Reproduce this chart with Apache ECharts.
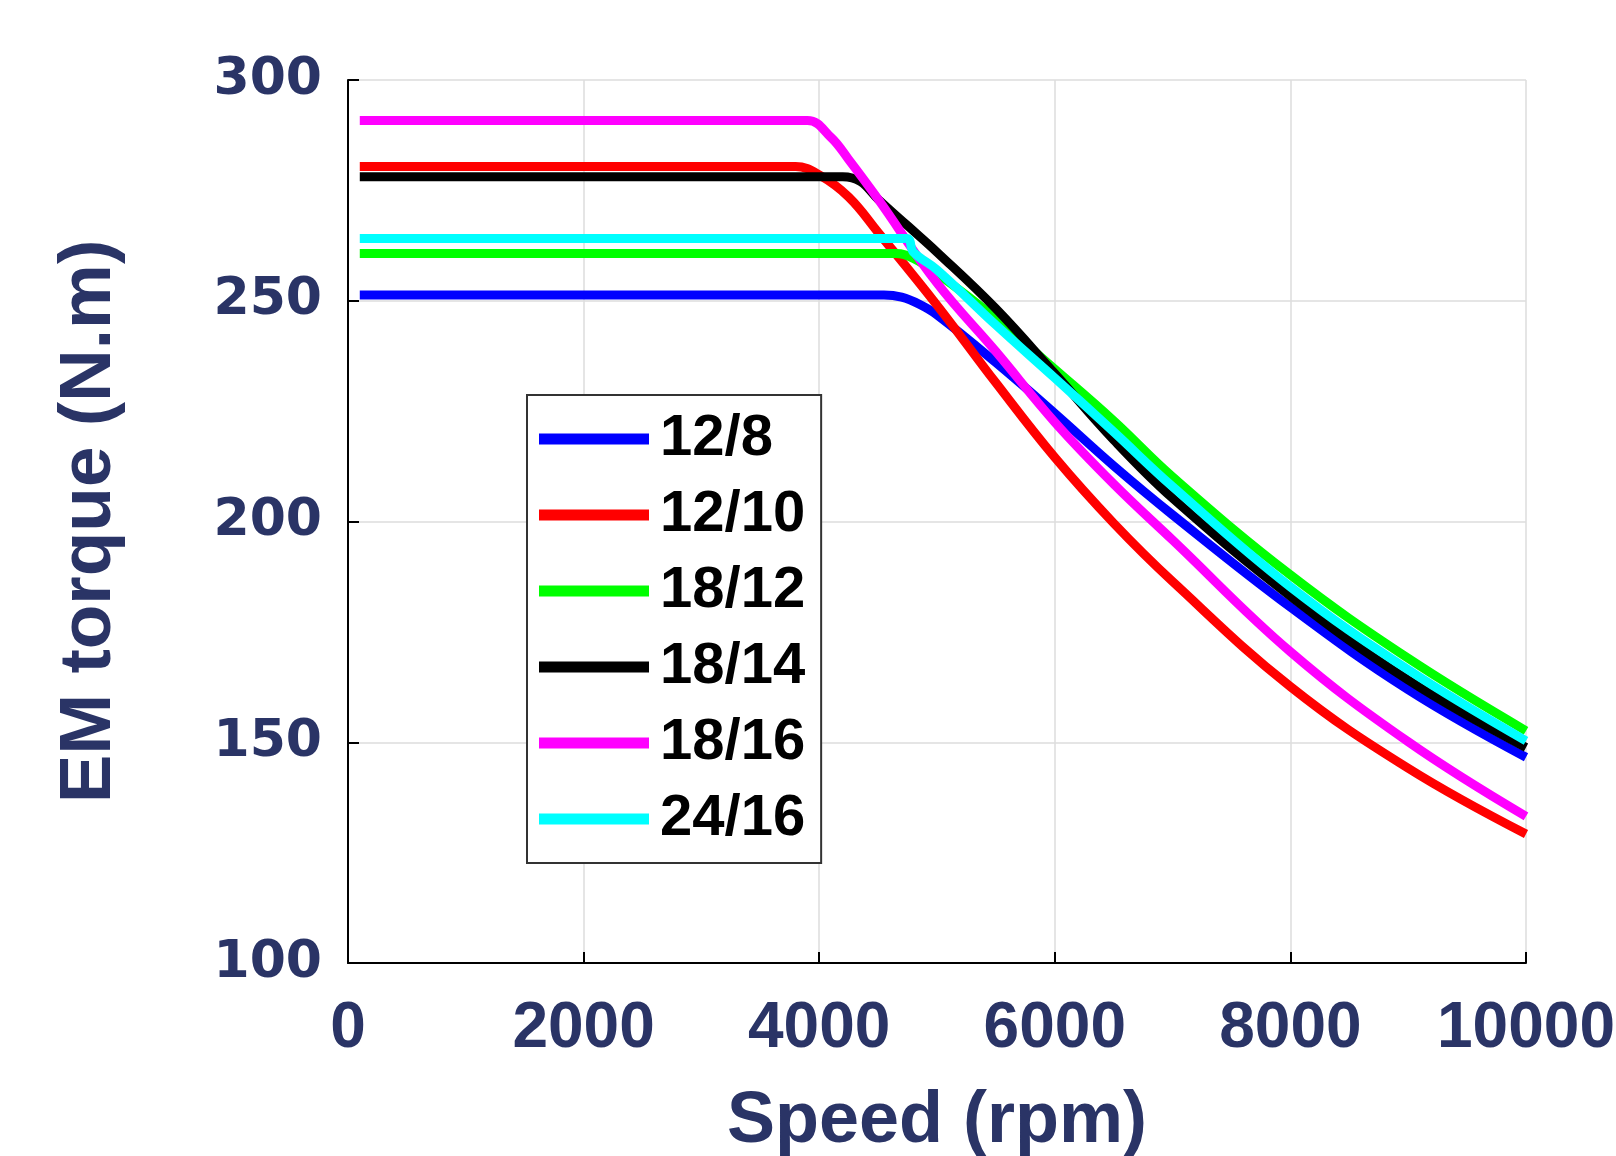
<!DOCTYPE html>
<html>
<head>
<meta charset="utf-8">
<script src="https://cdn.jsdelivr.net/npm/echarts@6/dist/echarts.min.js"></script>
<style>
  html, body { margin: 0; padding: 0; background: #fff; }
  #chart { width: 1616px; height: 1156px; }
</style>
</head>
<body>
<div id="chart"></div>
<script>
// tick values
const xTicks = [0, 2000, 4000, 6000, 8000, 10000];
const yTicks = [100, 150, 200, 250, 300];

// legend names
const names = ["12/8", "12/10", "18/12", "18/14", "18/16", "24/16"];

// [speed rpm, torque N.m]
const s12_8 = [[100, 251.3], [4550, 251.3], [4700, 250.8], [4850, 249.2], [5000, 246.8], [5500, 236], [6000, 224.5], [6500, 212.6], [7000, 201.5], [8000, 180.6], [9000, 161.9], [10000, 146.6]];
const s12_10 = [[100, 280.4], [3800, 280.4], [4000, 278.5], [4250, 273.5], [4500, 265.5], [5000, 249], [5500, 231.4], [6000, 214.5], [6500, 199.6], [7000, 186.4], [8000, 162.6], [9000, 144.1], [10000, 129.2]];
const s18_12 = [[100, 260.7], [4650, 260.7], [4800, 259.6], [5000, 256.2], [5500, 246], [6000, 234.5], [6500, 222.8], [7000, 210.1], [8000, 187.9], [9000, 169], [10000, 152.6]];
const s18_14 = [[100, 278.1], [4200, 278.1], [4350, 277], [4500, 273], [4750, 267], [5000, 261], [5500, 248.2], [6000, 233.5], [6500, 218.5], [7000, 205.3], [8000, 183.1], [9000, 164.1], [10000, 148.8]];
const s18_16 = [[100, 290.8], [3900, 290.8], [4100, 287], [4250, 282], [4500, 273], [5000, 254], [5500, 238.5], [6000, 222.5], [6500, 208.5], [7000, 195.8], [8000, 170.5], [9000, 150.1], [10000, 133.2]];
const s24_16 = [[100, 264.1], [4740, 264.1], [4800, 261], [5000, 257], [5500, 244.5], [6000, 232.5], [6500, 220.3], [7000, 207.9], [8000, 185.2], [9000, 166.4], [10000, 150.3]];

const seriesData = [s12_8, s12_10, s18_12, s18_14, s18_16, s24_16];
const colors = ["#0000ff", "#ff0000", "#00ff00", "#000000", "#ff00ff", "#00ffff"];

const navy = "#2a3466";

const myChart = echarts.init(document.getElementById("chart"));

let series = [];
seriesData.forEach((item, i) => {
  series.push({
    name: names[i],
    type: "line",
    data: item,
    smooth: 0.4,
    showSymbol: false,
    symbol: "none",
    lineStyle: {
      color: colors[i],
      width: 9,
    },
    itemStyle: {
      color: colors[i],
    },
  });
});

const option = {
  backgroundColor: "#fff",
  animation: false,
  color: colors,
  grid: {
    left: 348,
    right: 90,
    top: 80,
    bottom: 193,
    outerBoundsMode: "none",
    containLabel: false,
  },
  legend: {
    orient: "vertical",
    left: 527,
    top: 395,
    data: names,
    icon: "rect",
    itemWidth: 110,
    itemHeight: 11,
    itemGap: 18,
    padding: [15, 16, 15, 12],
    borderColor: "#333",
    borderWidth: 2,
    backgroundColor: "#fff",
    textStyle: {
      color: "#000",
      fontFamily: "Liberation Sans",
      fontWeight: "bold",
      fontSize: 58,
      lineHeight: 58,
      padding: [0, 0, 0, 6],
    },
  },
  xAxis: {
    type: "value",
    min: 0,
    max: 10000,
    interval: 2000,
    name: "Speed (rpm)",
    nameLocation: "middle",
    nameGap: 123,
    nameTextStyle: {
      color: navy,
      fontFamily: "Liberation Sans",
      fontWeight: "bold",
      fontSize: 72,
      verticalAlign: "top",
    },
    axisLine: {
      show: true,
      onZero: false,
      lineStyle: { color: "#000", width: 2 },
    },
    axisTick: {
      show: true,
      inside: true,
      length: 11,
      lineStyle: { color: "#000", width: 2 },
    },
    axisLabel: {
      color: navy,
      fontFamily: "Liberation Sans",
      fontWeight: "bold",
      fontSize: 64,
      margin: 34,
      formatter: (v) => String(v),
    },
    splitLine: {
      show: true,
      lineStyle: { color: "#dcdcdc", width: 1.5 },
    },
  },
  yAxis: {
    type: "value",
    min: 100,
    max: 300,
    interval: 50,
    name: "EM torque (N.m)",
    nameLocation: "middle",
    nameGap: 222,
    nameTextStyle: {
      color: navy,
      fontFamily: "Liberation Sans",
      fontWeight: "bold",
      fontSize: 73,
    },
    axisLine: {
      show: true,
      lineStyle: { color: "#000", width: 2 },
    },
    axisTick: {
      show: true,
      inside: true,
      length: 11,
      lineStyle: { color: "#000", width: 2 },
    },
    axisLabel: {
      color: navy,
      fontFamily: "DejaVu Sans",
      fontWeight: "bold",
      fontSize: 52,
      margin: 26,
    },
    splitLine: {
      show: true,
      lineStyle: { color: "#dcdcdc", width: 1.5 },
    },
  },
  series: series,
};

myChart.setOption(option, true);
</script>
</body>
</html>
